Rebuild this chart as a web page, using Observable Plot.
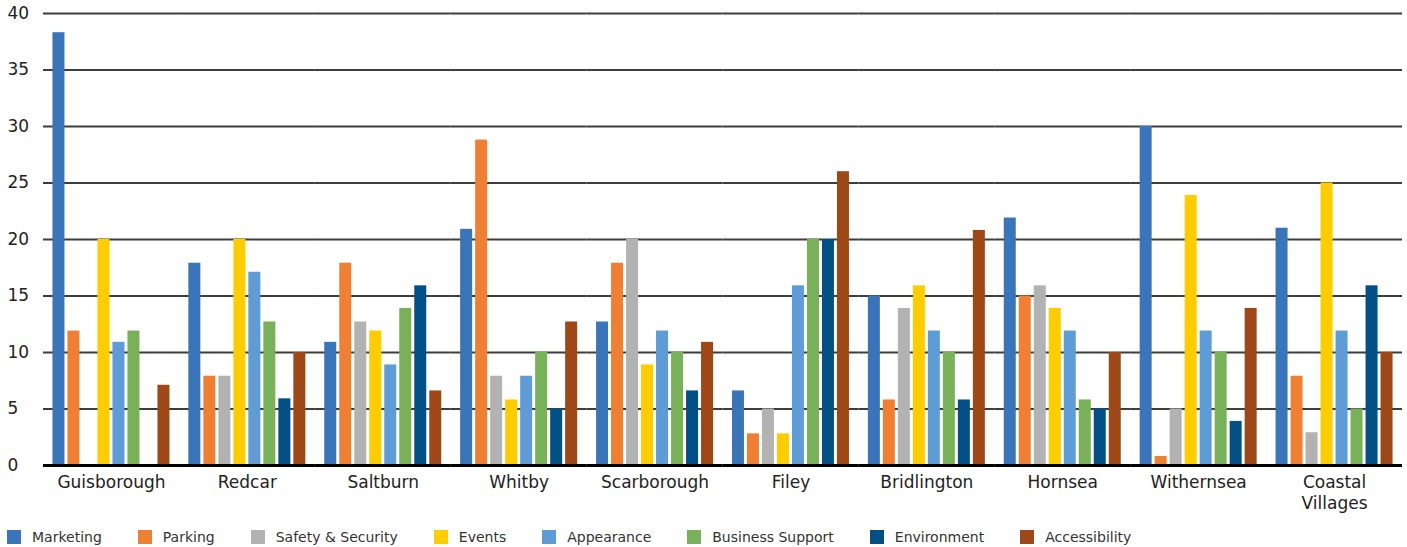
<!DOCTYPE html>
<html><head><meta charset="utf-8">
<script src="https://cdn.jsdelivr.net/npm/d3@7"></script>
<script src="https://cdn.jsdelivr.net/npm/@observablehq/plot@0.6"></script>
<style>
body{margin:0;background:#fff;font-family:"DejaVu Sans",sans-serif;}
#legend{display:flex;align-items:center;height:27px;padding-left:7px;font-size:14px;color:#333;box-sizing:border-box;padding-top:6px}
.item{display:flex;align-items:center;margin-right:36px}
.sw{width:14px;height:14px;margin-right:11px}
</style></head><body><div id="chart"></div><div id="legend"></div>
<script>
const towns = ["Guisborough","Redcar","Saltburn","Whitby","Scarborough","Filey","Bridlington","Hornsea","Withernsea","Coastal Villages"];
const categories = ["Marketing","Parking","Safety & Security","Events","Appearance","Business Support","Environment","Accessibility"];
const colors = ["#3A75B9","#EF8033","#B2B2B2","#FFCC00","#5F9CD5","#79B15A","#035087","#9E4818"];
const yTicks = [0,5,10,15,20,25,30,35,40];

const marketing       = [38.3, 17.9, 10.9, 20.9, 12.7,  6.6, 15.0, 21.9, 30.0, 21.0];
const parking         = [11.9,  7.9, 17.9, 28.8, 17.9,  2.8,  5.8, 15.0,  0.8,  7.9];
const safetySecurity  = [ 0,    7.9, 12.7,  7.9, 20.0,  5.0, 13.9, 15.9,  5.0,  2.9];
const events          = [20.0, 20.0, 11.9,  5.8,  8.9,  2.8, 15.9, 13.9, 23.9, 25.0];
const appearance      = [10.9, 17.1,  8.9,  7.9, 11.9, 15.9, 11.9, 11.9, 11.9, 11.9];
const businessSupport = [11.9, 12.7, 13.9, 10.0, 10.0, 20.0, 10.0,  5.8, 10.0,  5.0];
const environment     = [ 0,    5.9, 15.9,  5.0,  6.6, 20.0,  5.8,  5.0,  3.9, 15.9];
const accessibility   = [ 7.1, 10.0,  6.6, 12.7, 10.9, 26.0, 20.8, 10.0, 13.9, 10.0];

const series = [marketing, parking, safetySecurity, events, appearance, businessSupport, environment, accessibility];
const data = [];
towns.forEach((t, i) => categories.forEach((c, j) => data.push({town: t, category: c, value: series[j][i]})));

const chart = Plot.plot({
  width: 1407, height: 520,
  marginTop: 13, marginBottom: 55, marginLeft: 43, marginRight: 5,
  fx: {domain: towns, padding: 0, round: false, label: null},
  x: {domain: categories, paddingInner: 0.2, paddingOuter: 0.63, round: false, axis: null},
  y: {domain: [0, 40], axis: null},
  color: {domain: categories, range: colors},
  style: {fontFamily: "DejaVu Sans, sans-serif", fontSize: "17px", color: "#222", background: "#fff"},
  marks: [
    Plot.gridY(yTicks, {stroke: "#3d3d3d", strokeOpacity: 1, strokeWidth: 2}),
    Plot.barY(data, {fx: "town", x: "category", y: "value", fill: "category"}),
    Plot.ruleY([0], {stroke: "#000", strokeWidth: 3}),
    Plot.axisY(yTicks, {anchor: "left", label: null, tickSize: 0, tickPadding: 36, textAnchor: "start", fontSize: 17, fill: "#222"}),
    Plot.axisFx({anchor: "bottom", tickSize: 0, tickPadding: 8, label: null, fontSize: 17, fill: "#222", lineHeight: 1.22,
      tickFormat: d => d.replace(" ", "\n")})
  ]
});
document.getElementById("chart").appendChild(chart);

const legend = document.getElementById("legend");
categories.forEach((c, i) => {
  const item = document.createElement("div");
  item.className = "item";
  const sw = document.createElement("span");
  sw.className = "sw";
  sw.style.background = colors[i];
  const lab = document.createElement("span");
  lab.textContent = c;
  item.appendChild(sw); item.appendChild(lab);
  legend.appendChild(item);
});
</script></body></html>
